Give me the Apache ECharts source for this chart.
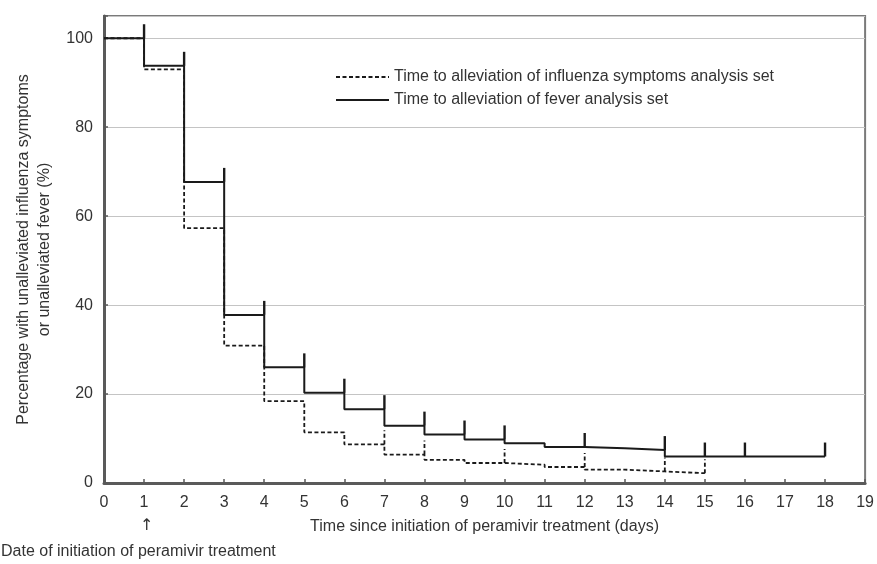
<!DOCTYPE html>
<html>
<head>
<meta charset="utf-8">
<script src="https://cdn.jsdelivr.net/npm/echarts@6/dist/echarts.min.js"></script>
<style>
  html, body { margin: 0; padding: 0; background: #fff; }
  #main { width: 877px; height: 564px; }
</style>
</head>
<body>
<div id="main"></div>
<script>
// day at which each level starts, and level (%) from that day on
var days = [0, 1, 2, 3, 4, 5, 6, 7, 8, 9, 10, 11, 12, 13, 14];
var feverLevels = [100, 93.8, 67.7, 37.8, 26.0, 20.3, 16.6, 12.9, 10.9, 9.8, 8.95, 8.1, 7.8, 7.4, 5.95];
var feverEnd = 18;
var symptomLevels = [100, 93.0, 57.3, 30.9, 18.4, 11.4, 8.7, 6.4, 5.2, 4.5, 4.1, 3.6, 3.0, 2.6, 2.2];
var symptomEnd = 15;
// censored observations (vertical ticks)
var feverCensorDays = [1, 2, 3, 4, 5, 6, 7, 8, 9, 10, 12, 14, 15, 16, 18];
var symptomCensorDays = [7, 8, 10, 12, 14, 15];
var xTicks = [0, 19];
var yTicks = [0, 20, 40, 60, 80, 100];

var nameSymptom = 'Time to alleviation of influenza symptoms analysis set';
var nameFever = 'Time to alleviation of fever analysis set';

function stepData(levels, end) {
    var out = [];
    for (var i = 0; i < levels.length; i++) out.push([days[i], levels[i]]);
    out.push([end, levels[levels.length - 1]]);
    return out;
}
// level just before the given day
function levelBefore(levels, d) {
    var idx = Math.min(d - 1, levels.length - 1);
    return levels[idx];
}
function censorData(levels, list) {
    return list.map(function (d) { return [d, levelBefore(levels, d)]; });
}

function censorRender(dashed) {
    return function (params, api) {
        var p = api.coord([api.value(0), api.value(1)]);
        return {
            type: 'line',
            shape: { x1: p[0], y1: p[1], x2: p[0], y2: p[1] - 14 },
            style: {
                stroke: '#1a1a1a',
                lineWidth: dashed ? 1.8 : 2.4,
                lineDash: dashed ? [4, 2.5] : null
            }
        };
    };
}

var myChart = echarts.init(document.getElementById('main'));
var font = '"Liberation Sans", Arial, sans-serif';

var option = {
    animation: false,
    textStyle: { fontFamily: font },
    grid: {
        left: 104, right: 11, top: 16, bottom: 81,
        show: true, borderColor: '#7a7a7a', borderWidth: 2
    },
    legend: {
        orient: 'vertical',
        left: 330, top: 64,
        itemWidth: 53, itemHeight: 2, itemGap: 7,
        itemStyle: { opacity: 0 },
        textStyle: { fontFamily: font, fontSize: 16, color: '#333' },
        data: [nameSymptom, nameFever]
    },
    xAxis: {
        type: 'value',
        min: xTicks[0], max: xTicks[1], interval: 1,
        name: 'Time since initiation of peramivir treatment (days)',
        nameLocation: 'middle', nameGap: 36,
        nameTextStyle: { fontSize: 16, color: '#333', fontFamily: font },
        axisLine: { lineStyle: { color: '#5a5a5a', width: 3 } },
        axisTick: { inside: true, length: 4, lineStyle: { color: '#5a5a5a', width: 1.5 } },
        axisLabel: { fontSize: 16, color: '#333', margin: 12, fontFamily: font },
        splitLine: { show: false }
    },
    yAxis: {
        type: 'value',
        min: 0, max: 105, interval: 20,
        name: 'Percentage with unalleviated influenza symptoms\nor unalleviated fever (%)',
        nameLocation: 'middle', nameGap: 47, nameRotate: 90,
        nameTextStyle: { fontSize: 16, color: '#333', fontFamily: font, lineHeight: 21 },
        axisLine: { show: true, lineStyle: { color: '#5a5a5a', width: 3 } },
        axisTick: { show: true, inside: true, length: 4, lineStyle: { color: '#5a5a5a', width: 1.5 } },
        axisLabel: {
            fontSize: 16, color: '#333', margin: 11, fontFamily: font,
            formatter: function (v) { return yTicks.indexOf(v) >= 0 ? String(v) : ''; }
        },
        splitLine: { lineStyle: { color: '#c4c4c4', width: 1.2 } }
    },
    series: [
        {
            name: nameSymptom,
            type: 'line',
            step: 'end',
            symbol: 'none',
            z: 2,
            lineStyle: { color: '#1a1a1a', width: 1.8, type: [4, 2.5] },
            itemStyle: { color: '#1a1a1a' },
            data: stepData(symptomLevels, symptomEnd)
        },
        {
            name: nameFever,
            type: 'line',
            step: 'end',
            symbol: 'none',
            z: 3,
            lineStyle: { color: '#1a1a1a', width: 2 },
            itemStyle: { color: '#1a1a1a' },
            data: stepData(feverLevels, feverEnd)
        },
        {
            type: 'custom',
            z: 2,
            renderItem: censorRender(true),
            data: censorData(symptomLevels, symptomCensorDays)
        },
        {
            type: 'custom',
            z: 3,
            renderItem: censorRender(false),
            data: censorData(feverLevels, feverCensorDays)
        }
    ],
    graphic: [
        {
            type: 'text', left: 140, top: 518,
            style: { text: '\u2191', fontSize: 16, fill: '#333', fontFamily: '"DejaVu Sans", sans-serif' }
        },
        {
            type: 'text', left: 1, top: 544,
            style: { text: 'Date of initiation of peramivir treatment', fontSize: 16, fill: '#333', fontFamily: font }
        }
    ]
};
myChart.setOption(option);
</script>
</body>
</html>
